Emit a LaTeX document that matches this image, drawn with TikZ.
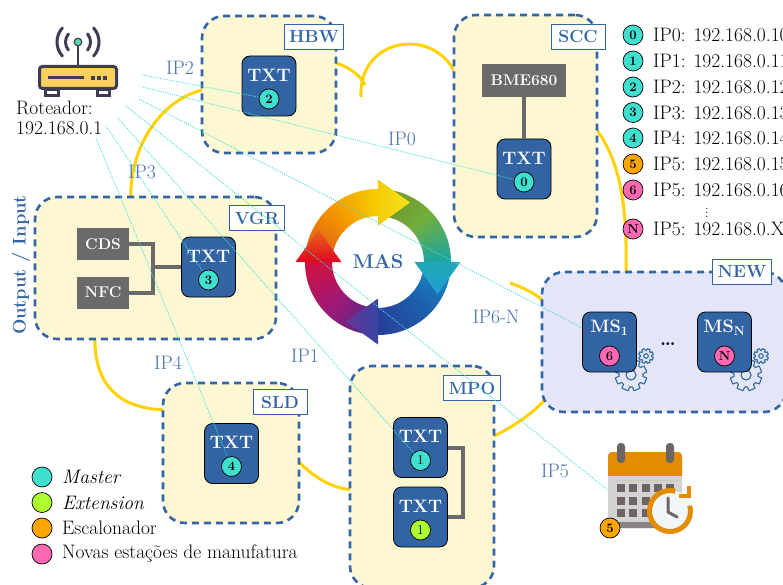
\documentclass[tikz,border=0pt]{standalone}
\usepackage{fontspec}
\usetikzlibrary{calc}

% palette
\definecolor{boxblue}{HTML}{3465A4}
\definecolor{txtblue}{HTML}{3263A2}
\definecolor{ipblue}{HTML}{4470B0}
\definecolor{boxfill}{HTML}{FEF8D2}
\definecolor{newfill}{HTML}{E5E5F8}
\definecolor{gold}{HTML}{FFD200}
\definecolor{hwgray}{HTML}{6A6A6A}
\definecolor{cTurq}{HTML}{40E0D0}
\definecolor{cLime}{HTML}{ADFF2F}
\definecolor{cOrange}{HTML}{FFA500}
\definecolor{cPink}{HTML}{FF69B4}
\definecolor{linkcyan}{HTML}{3FE0D8}
\definecolor{gearcol}{HTML}{2F6C9C}
\definecolor{routerdark}{HTML}{3F3D56}
\definecolor{routeryellow}{HTML}{FFD15C}
\definecolor{routergreen}{HTML}{5ED6A8}
\definecolor{calgray}{HTML}{D3D3D3}
\definecolor{caldark}{HTML}{6E6464}
\definecolor{calorange}{HTML}{E38C00}
\definecolor{clockface}{HTML}{F0F6FA}
% MAS cycle colours
\definecolor{mCa}{HTML}{D9531E}
\definecolor{mCb}{HTML}{F39200}
\definecolor{mCc}{HTML}{F7D000}
\definecolor{mCd}{HTML}{6F8F2A}
\definecolor{mCe}{HTML}{72AE3A}
\definecolor{mCf}{HTML}{1AA5A5}
\definecolor{mCg}{HTML}{1A8CC8}
\definecolor{mCh}{HTML}{1C5FAA}
\definecolor{mCi}{HTML}{283E98}
\definecolor{mCj}{HTML}{4E2A84}
\definecolor{mCk}{HTML}{9E1A78}
\definecolor{mCl}{HTML}{D3103C}
\definecolor{hTa}{HTML}{F4CC0A}
\definecolor{hTb}{HTML}{F3E61C}
\definecolor{hRa}{HTML}{21A7B5}
\definecolor{hRb}{HTML}{1E9FD8}
\definecolor{hBa}{HTML}{3A44A2}
\definecolor{hBb}{HTML}{6B3597}
\definecolor{hLa}{HTML}{DE0E20}
\definecolor{hLb}{HTML}{EE6A1A}

\tikzset{
  station/.style={draw=boxblue, line width=2.6pt, dash pattern=on 7pt off 5pt,
    rounded corners=22pt, fill=boxfill, inner sep=0pt},
  tag/.style={draw=boxblue, line width=0.9pt, fill=white, text=boxblue,
    font=\fontsize{17.5}{20}\selectfont\bfseries, inner xsep=5pt, inner ysep=3pt,
    minimum height=25pt, minimum width=54pt},
  txtbox/.style={draw=black, line width=0.8pt, fill=txtblue, rounded corners=8pt,
    minimum width=54pt, minimum height=60pt, inner sep=0pt},
  txtlabel/.style={text=white, font=\fontsize{18}{20}\selectfont\bfseries, inner sep=0pt},
  badge/.style={circle, draw=black, line width=0.7pt, minimum size=20pt, inner sep=0pt,
    font=\fontsize{13}{13}\selectfont\bfseries},
  hw/.style={fill=hwgray, text=white, font=\fontsize{15.5}{18}\selectfont\bfseries,
    minimum height=32pt, minimum width=52pt, inner sep=0pt},
  wire/.style={draw=hwgray, line width=4pt},
  ring/.style={draw=gold, line width=3pt},
  link/.style={draw=linkcyan, line width=0.9pt, dash pattern=on 1pt off 1.3pt},
  iplabel/.style={text=ipblue, font=\fontsize{19.5}{22}\selectfont, inner sep=0pt},
  plain/.style={font=\fontsize{19.5}{22}\selectfont, inner sep=0pt},
}

% one controller block: name, x, y, badge text, badge colour, extra badge style
\newcommand\txtunit[6]{%
  \node[txtbox] (#1) at (#2,#3) {};
  \node[txtlabel] (#1-t) at (#2,#3-11) {TXT};
  \node[badge, fill=#5, #6] (#1-b) at (#2,#3+13) {#4};}

% gear outline: x, y, tip radius, root radius, hole radius
\newcommand\gearicon[5]{%
  \draw[gearcol, line width=1.1pt, line join=round, shift={(#1,#2)}]
    (0:#4) \foreach \g in {0,45,...,315}{ -- (\g+6:#4) -- (\g+11:#3) -- (\g+34:#3) -- (\g+39:#4) -- (\g+45:#4)} -- cycle
    (0,0) circle[radius=#5];}

% coloured band of the cycle: from angle, to angle, colour, colour
\newcommand\arcband[4]{%
  \foreach \k in {0,...,19}{
    \pgfmathsetmacro\bandA{#1+(#2-#1)*\k/20}
    \pgfmathsetmacro\bandB{#1+(#2-#1)*(\k+1.25)/20}
    \pgfmathtruncatemacro\mixp{100-5*\k}
    \fill[#3!\mixp!#4] (\bandA:46) arc[start angle=\bandA, end angle=\bandB, radius=46]
      -- (\bandB:73) arc[start angle=\bandB, end angle=\bandA, radius=73] -- cycle;
  }}

% arrow head of the cycle: rotation, base colour, tip colour
\newcommand\cyclehead[3]{%
  \foreach \k in {0,...,9}{
    \pgfmathsetmacro\tA{\k/10}
    \pgfmathsetmacro\tB{min(1,(\k+1.2)/10)}
    \pgfmathsetmacro\xAl{-59.5-23*(1-\tA)}
    \pgfmathsetmacro\xAr{-59.5+23*(1-\tA)}
    \pgfmathsetmacro\xBl{-59.5-23*(1-\tB)}
    \pgfmathsetmacro\xBr{-59.5+23*(1-\tB)}
    \pgfmathsetmacro\yA{32*\tA}
    \pgfmathsetmacro\yB{32*\tB}
    \pgfmathtruncatemacro\mixp{100-10*\k}
    \fill[#2!\mixp!#3, rotate=#1] (\xAl,\yA) -- (\xAr,\yA) -- (\xBr,\yB) -- (\xBl,\yB) -- cycle;
  }}

\begin{document}
\begin{tikzpicture}[x=1pt, y=-1pt]
\fill[white] (0,0) rectangle (783,585);
\useasboundingbox (0,0) rectangle (783,585);

% ---- ring connecting the stations ----
\draw[ring] (212,88) .. controls (160,95) and (128,150) .. (131,202);
\draw[ring] (330,61) .. controls (350,67) and (360,75) .. (365,85);
\draw[ring] (361,97) .. controls (358,35) and (440,25) .. (458,80);
\draw[ring] (590,122) .. controls (625,160) and (627,220) .. (626,278);
\draw[ring] (510,283) .. controls (590,310) and (590,390) .. (492,437);
\draw[ring] (292,455) .. controls (315,480) and (335,490) .. (358,490);
\draw[ring] (95,332) .. controls (92,395) and (130,410) .. (170,410);

% ---- stations ----
\node[station, minimum width=134pt, minimum height=137pt] (hbw) at (269,84.5) {};
\node[station, minimum width=143pt, minimum height=222pt] (scc) at (525.5,126) {};
\node[station, minimum width=241pt, minimum height=142pt] (vgr) at (155.5,268) {};
\node[station, minimum width=136pt, minimum height=140pt] (sld) at (231,453) {};
\node[station, minimum width=144pt, minimum height=222pt] (mpo) at (422,477) {};
\node[station, fill=newfill, minimum width=244pt, minimum height=140pt] (new) at (664,342) {};

\node[tag] (hbw-tag) at (314,37) {HBW};
\node[tag] (scc-tag) at (578,37) {SCC};
\node[tag] (vgr-tag) at (257,218) {VGR};
\node[tag] (sld-tag) at (280,402) {SLD};
\node[tag] (mpo-tag) at (472,388) {MPO};
\node[tag] (new-tag) at (742,272) {NEW};

\node[rotate=90, text=boxblue, font=\fontsize{18.3}{20}\selectfont\bfseries] (io) at (21,265) {Output / Input};

% ---- sensors and controllers ----
\node[hw, minimum width=84pt, minimum height=33pt] (bme) at (524,80.5) {BME680};
\node[hw] (cds) at (103,244) {CDS};
\node[hw] (nfc) at (103,292.5) {NFC};

\txtunit{txh}{269}{86}{2}{cTurq}{}
\txtunit{txs}{524}{169}{0}{cTurq}{}
\txtunit{txv}{208.5}{267}{3}{cTurq}{}
\txtunit{txl}{231.5}{453.5}{4}{cTurq}{}
\txtunit{txm}{420.5}{447.5}{1}{cTurq}{font=\fontsize{13.5}{13.5}\selectfont}
\txtunit{txe}{420.5}{517}{1}{cLime}{font=\fontsize{13.5}{13.5}\selectfont}

\coordinate (vj) at (153,267);
\coordinate (mj) at (463,482);
\draw[wire] (bme) -- (txs);
\draw[wire] (cds.east) -| (vj) |- (nfc.east);
\draw[wire] (vj) -- (txv.west);
\draw[wire] (txm.east) -| (mj) |- (txe.east);

% ---- new manufacturing stations ----
\gearicon{631}{375}{16}{12}{5}
\gearicon{646}{356}{7.5}{5.5}{2.3}
\gearicon{746}{375}{16}{12}{5}
\gearicon{761}{356}{7.5}{5.5}{2.3}
\node[txtbox] (ms1) at (609.5,342) {};
\node[txtlabel] (ms1-t) at (609.5,328) {MS\textsubscript{1}};
\node[badge, fill=cPink] (ms1-b) at (609.5,356) {6};
\node[txtbox] (msn) at (724.5,342) {};
\node[txtlabel] (msn-t) at (724.5,328) {MS\textsubscript{N}};
\node[badge, fill=cPink] (msn-b) at (724.5,356) {N};
\node[plain, font=\fontsize{19.5}{22}\selectfont\bfseries] (ms-dots) at (668,344) {\dots};

% ---- MAS cycle ----
\begin{scope}[shift={(378,262)}, y=1pt]
  \arcband{180}{135}{mCa}{mCb}
  \arcband{135}{90}{mCb}{mCc}
  \arcband{90}{45}{mCd}{mCe}
  \arcband{45}{0}{mCe}{mCf}
  \arcband{0}{-45}{mCg}{mCh}
  \arcband{-45}{-90}{mCh}{mCi}
  \arcband{-90}{-135}{mCj}{mCk}
  \arcband{-135}{-180}{mCk}{mCl}
  \cyclehead{0}{hLa}{hLb}
  \cyclehead{-90}{hTa}{hTb}
  \cyclehead{-180}{hRa}{hRb}
  \cyclehead{90}{hBa}{hBb}
\end{scope}
\node[text=boxblue, font=\fontsize{20}{22}\selectfont\bfseries] (mas) at (378,262) {MAS};

% ---- router ----
\filldraw[fill=white, draw=routerdark, line width=2.5pt] (45.5,89.5) rectangle (58.5,95.5);
\filldraw[fill=white, draw=routerdark, line width=2.5pt] (97.5,89.5) rectangle (109.5,95.5);
\begin{scope}[shift={(78,42)}, y=1pt]
  \draw[routerdark, line width=3pt, line cap=round] (140:12.5) arc[start angle=140, end angle=220, radius=12.5];
  \draw[routerdark, line width=3pt, line cap=round] (138:21) arc[start angle=138, end angle=222, radius=21];
  \draw[routerdark, line width=3pt, line cap=round] (-40:12.5) arc[start angle=-40, end angle=40, radius=12.5];
  \draw[routerdark, line width=3pt, line cap=round] (-42:21) arc[start angle=-42, end angle=42, radius=21];
  \draw[routerdark, line width=2.5pt] (0,-3) -- (0,-24);
  \filldraw[fill=routergreen, draw=routerdark, line width=1.2pt] (0,0) circle[radius=3.8];
\end{scope}
\filldraw[fill=routeryellow, draw=routerdark, line width=3pt, rounded corners=3pt] (39.5,66.5) rectangle (116.5,88.5);
\draw[routerdark, line width=3pt] (48,78) -- (84,78);
\foreach \dx in {93,99,105} \fill[routerdark] (\dx-1.6,76.4) rectangle (\dx+1.6,79.6);
\node[minimum width=82pt, minimum height=72pt, inner sep=0pt] (router) at (78,60) {};
\node[plain, anchor=base west] (router-name) at (16,115) {Roteador:};
\node[plain, anchor=base west] (router-ip) at (16,135) {192.168.0.1};

% ---- scheduler (calendar with clock) ----
\fill[calgray, rounded corners=4pt] (608,452) rectangle (682,528);
\fill[caldark!80!white, rounded corners=2pt] (610,522) rectangle (680,528);
\fill[calorange, rounded corners=4pt] (608,452) rectangle (682,480);
\fill[calgray] (608,475.5) rectangle (682,480);
\fill[caldark, rounded corners=3.5pt] (617,443) rectangle (625,463);
\fill[caldark, rounded corners=3.5pt] (666,443) rectangle (674,463);
\foreach \cx in {621,633,646,658,670}
  \foreach \cy in {488,500.5,512.5}
    \fill[caldark] (\cx-4,\cy-4) rectangle (\cx+4,\cy+4);
\begin{scope}[shift={(670,511)}, y=1pt]
  \fill[clockface] (0,0) circle[radius=21];
  \draw[calorange, line width=5pt] (75:20.5) arc[start angle=75, end angle=375, radius=20.5];
  \draw[calorange, line width=4pt] (9,15) -- (19,15) -- (19,25);
  \draw[caldark, line width=3pt, line cap=round, line join=round] (-2,13) -- (-2,-1) -- (7,-6);
\end{scope}
\node[minimum width=74pt, minimum height=76pt, inner sep=0pt] (cal) at (645,490) {};
\node[badge, fill=cOrange] (cal-b) at (610,528) {5};

% ---- address list ----
\foreach \yy/\cc/\nn/\ip in {35/cTurq/0/IP0: 192.168.0.10, 61/cTurq/1/IP1: 192.168.0.11,
    87/cTurq/2/IP2: 192.168.0.12, 112.5/cTurq/3/IP3: 192.168.0.13, 138/cTurq/4/IP4: 192.168.0.14,
    164/cOrange/5/IP5: 192.168.0.15, 190/cPink/6/IP5: 192.168.0.16, 229/cPink/N/IP5: 192.168.0.X}{
  \node[badge, fill=\cc] (addr-\nn) at (633,\yy) {\nn};
  \node[plain, anchor=west] (addr-\nn-t) at (653,\yy) {\ip};
}
\node[plain, font=\fontsize{13}{14}\selectfont] (addr-dots) at (707,210) {$\vdots$};

% ---- legend ----
\foreach \yy/\cc/\nm/\tx in {477/cTurq/master/\textit{Master}, 502.5/cLime/ext/\textit{Extension},
    528/cOrange/sched/Escalonador, 554/cPink/new/Novas estações de manufatura}{
  \node[badge, fill=\cc] (leg-\nm) at (42,\yy) {};
  \node[plain, anchor=west] (leg-\nm-t) at (62,\yy) {\tx};
}

% ---- network links from the router ----
\coordinate (r0) at (142,75);
\coordinate (r1) at (143,87);
\coordinate (r2) at (139,99);
\coordinate (r3) at (126,106);
\coordinate (r4) at (118,118);
\coordinate (r5) at (106,126);
\coordinate (r6) at (96,138);
\draw[link] (r0) -- (txh-b);
\draw[link] (r1) -- (txs-b);
\draw[link] (r2) -- (ms1);
\draw[link] (r3) -- (cal.west);
\draw[link] (r4) -- (txm-b);
\draw[link] (r5) -- (txv-b);
\draw[link] (r6) -- (txl-b);

\node[iplabel] (ip0) at (402,139) {IP0};
\node[iplabel] (ip1) at (305,356) {IP1};
\node[iplabel] (ip2) at (180,68) {IP2};
\node[iplabel] (ip3) at (142,172) {IP3};
\node[iplabel] (ip4) at (168,363) {IP4};
\node[iplabel] (ip5) at (555,471) {IP5};
\node[iplabel] (ip6) at (496,317) {IP6-N};
\end{tikzpicture}
\end{document}
